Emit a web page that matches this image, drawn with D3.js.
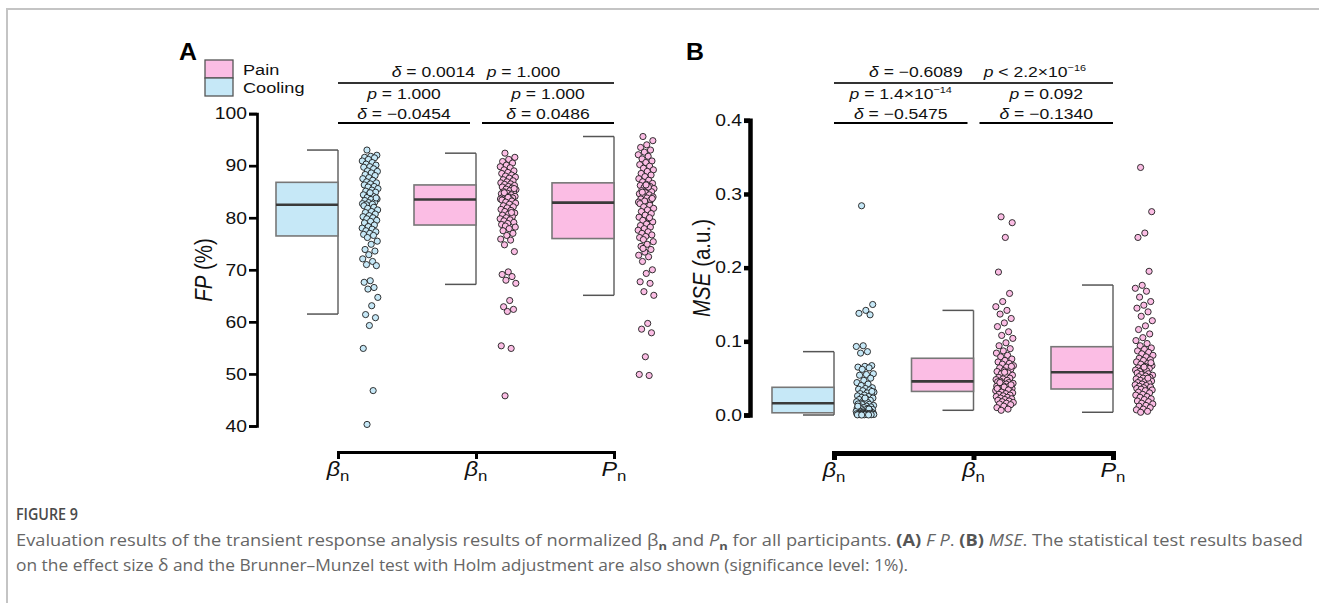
<!DOCTYPE html>
<meta charset="utf-8">
<style>
body { margin: 0; background: #fff; }
svg { display: block; font-family: "Liberation Sans", Arial, sans-serif; }
</style>
<body>
<script src="https://cdn.jsdelivr.net/npm/d3@7"></script>
<script>
// ---- data ----
var xLabels = [["β", "n"], ["β", "n"], ["P", "n"]];
var groupNames = ["Cooling", "Pain", "Pain"];
var legendNames = ["Pain", "Cooling"];

// FP (%) per participant
var fpCooling = [93.0, 92.0, 91.8, 91.6, 91.5, 91.2, 90.9, 90.6, 90.3, 90.1, 89.8, 89.7, 89.4, 89.0, 88.9, 88.6, 88.3, 88.1, 87.7, 87.5, 87.2, 86.9,
  86.7, 86.5, 86.3, 86.0, 85.9, 85.6, 85.3, 85.1, 84.9, 84.6, 84.4, 84.1, 83.9, 83.6, 83.5, 83.3, 83.0, 82.9, 82.7, 82.6, 82.5, 83.8, 84.8,
  82.3, 82.0, 81.8, 81.5, 81.2, 81.0, 80.7, 80.4, 80.2, 80.0, 79.8, 79.5, 79.3, 79.0, 78.6, 78.3, 78.0, 77.8, 77.5, 77.3, 77.0, 76.8, 76.6,
  76.2, 75.5, 74.9, 73.9, 73.6, 72.9, 72.1, 71.6, 71.0, 70.8, 67.9, 67.6, 66.6, 66.3, 64.7, 63.1, 61.4, 60.8, 59.3, 54.9, 46.8, 40.3];
var fpPainBeta = [92.4, 91.6, 91.2, 90.8, 90.5, 90.1, 89.8, 89.6, 89.2, 89.0, 88.7, 88.5, 88.2, 88.0, 87.8, 87.6, 87.3, 87.1, 86.9, 86.7, 86.5, 86.4,
  86.2, 86.0, 85.9, 85.7, 85.5, 85.4, 85.2, 85.0, 84.9, 84.7, 84.6, 84.4, 84.3, 84.1, 84.0, 83.9, 83.8, 83.7, 83.6, 83.5, 84.8, 85.6, 83.9,
  83.4, 83.2, 83.0, 82.8, 82.6, 82.3, 82.1, 81.9, 81.6, 81.4, 81.2, 80.9, 80.7, 80.5, 80.2, 80.0, 79.8, 79.6, 79.4, 79.1, 78.9, 78.7, 81.0,
  78.4, 78.2, 77.9, 77.5, 77.0, 76.6, 75.9, 75.7, 74.8, 73.5, 69.6, 69.1, 68.7, 68.0, 67.4, 64.1, 62.9, 62.4, 62.0, 55.4, 54.9, 45.8];
var fpPainP = [95.6, 94.8, 94.0, 93.5, 93.0, 92.6, 92.1, 91.8, 91.3, 90.9, 90.6, 90.2, 89.9, 89.5, 89.2, 88.9, 88.5, 88.2, 87.9, 87.5, 87.2, 86.9,
  86.6, 86.4, 86.2, 86.0, 85.8, 85.6, 85.4, 85.2, 85.0, 84.8, 84.6, 84.4, 84.2, 84.0, 83.8, 83.6, 83.4, 83.2, 83.0, 85.9, 84.9, 83.7, 86.3,
  82.7, 82.4, 82.1, 81.8, 81.5, 81.2, 80.8, 80.5, 80.1, 79.8, 79.5, 79.2, 78.8, 78.5, 78.2, 77.9, 77.6, 77.3, 77.0, 76.7, 76.4, 76.2, 80.0,
  75.8, 75.4, 74.9, 74.5, 73.9, 73.4, 72.8, 72.5, 71.6, 70.0, 69.3, 67.7, 67.4, 65.8, 65.1, 59.7, 58.6, 57.9, 53.3, 49.9, 49.7, 74.1];

// MSE (a.u.) per participant
var mseCooling = [0.284, 0.150, 0.142, 0.138, 0.136, 0.094, 0.093, 0.086, 0.084, 0.067, 0.066, 0.065, 0.064, 0.062, 0.056, 0.055, 0.054, 0.050, 0.047, 0.044, 0.042, 0.040,
  0.037, 0.036, 0.035, 0.034, 0.033, 0.031, 0.030, 0.029, 0.028, 0.027, 0.026, 0.025, 0.024, 0.023, 0.022, 0.021, 0.020, 0.019, 0.018, 0.017, 0.016, 0.032, 0.023,
  0.015, 0.0145, 0.014, 0.013, 0.012, 0.0115, 0.011, 0.010, 0.0095, 0.009, 0.008, 0.0075, 0.007, 0.0065, 0.006, 0.0055, 0.005, 0.0045, 0.004, 0.0035, 0.0033, 0.012, 0.008,
  0.0029, 0.0027, 0.0025, 0.0023, 0.0021, 0.002, 0.0018, 0.0016, 0.0015, 0.0013, 0.0012, 0.001, 0.0009, 0.0008, 0.0007, 0.0006, 0.0005, 0.0004, 0.0003, 0.0002, 0.0001, 0.0];
var msePainBeta = [0.269, 0.261, 0.241, 0.194, 0.165, 0.154, 0.147, 0.142, 0.137, 0.131, 0.125, 0.120, 0.113, 0.108, 0.104, 0.098, 0.094, 0.090, 0.087, 0.084, 0.081, 0.079,
  0.076, 0.074, 0.072, 0.070, 0.069, 0.067, 0.065, 0.064, 0.062, 0.060, 0.059, 0.057, 0.056, 0.054, 0.053, 0.051, 0.050, 0.049, 0.048, 0.047, 0.046, 0.066, 0.058,
  0.045, 0.044, 0.0435, 0.043, 0.042, 0.041, 0.040, 0.0395, 0.039, 0.038, 0.037, 0.036, 0.0355, 0.035, 0.034, 0.0335, 0.033, 0.0325, 0.044, 0.041, 0.038, 0.036, 0.034,
  0.031, 0.030, 0.029, 0.028, 0.027, 0.026, 0.025, 0.024, 0.023, 0.022, 0.021, 0.020, 0.019, 0.018, 0.017, 0.016, 0.015, 0.014, 0.012, 0.010, 0.008, 0.0064];
var msePainP = [0.336, 0.276, 0.247, 0.241, 0.195, 0.176, 0.172, 0.168, 0.160, 0.154, 0.149, 0.145, 0.140, 0.134, 0.128, 0.121, 0.116, 0.110, 0.105, 0.101, 0.097, 0.094,
  0.091, 0.089, 0.087, 0.085, 0.083, 0.081, 0.079, 0.077, 0.075, 0.074, 0.072, 0.070, 0.069, 0.067, 0.066, 0.064, 0.063, 0.062, 0.061, 0.060, 0.059, 0.071, 0.065,
  0.057, 0.056, 0.055, 0.054, 0.053, 0.052, 0.051, 0.050, 0.049, 0.048, 0.047, 0.046, 0.045, 0.044, 0.043, 0.042, 0.041, 0.040, 0.039, 0.038, 0.037, 0.036, 0.050,
  0.035, 0.034, 0.033, 0.031, 0.030, 0.028, 0.027, 0.025, 0.024, 0.022, 0.021, 0.019, 0.018, 0.016, 0.015, 0.013, 0.012, 0.010, 0.008, 0.007, 0.005, 0.0037];

// box stats: [whisker low, q1, median, q3, whisker high]
var fpBox = [[61.5, 76.5, 82.5, 86.8, 93.0], [67.2, 78.6, 83.5, 86.3, 92.4], [65.1, 76.0, 82.9, 86.7, 95.6]];
var mseBox = [[0.0, 0.003, 0.016, 0.0376, 0.086], [0.0064, 0.032, 0.0457, 0.077, 0.142], [0.0037, 0.0353, 0.058, 0.0927, 0.1764]];

var fpTicks = [40, 50, 60, 70, 80, 90, 100];
var mseTicks = [0, 0.1, 0.2, 0.3, 0.4];

// test annotations: [top, left p, left delta, right p, right delta]
var fpStats = [
  [["δ", "i"], [" = 0.0014"], ["p", "i", 10], [" = 1.000"]],
  [["p", "i"], [" = 1.000"]],
  [["δ", "i"], [" = −0.0454"]],
  [["p", "i"], [" = 1.000"]],
  [["δ", "i"], [" = 0.0486"]]
];
var mseStats = [
  [["δ", "i"], [" = −0.6089"], ["p", "i", 18], [" < 2.2×10"], ["−16", "sup"]],
  [["p", "i"], [" = 1.4×10"], ["−14", "sup"]],
  [["δ", "i"], [" = −0.5475"]],
  [["p", "i"], [" = 0.092"]],
  [["δ", "i"], [" = −0.1340"]]
];

var blue = "#c6e8f7", pink = "#fbbde4";
var fills = [blue, pink, pink];
var SX = 1.17; // figure text is stretched horizontally

var width = 1319, height = 603;
var svg = d3.select("body").append("svg").attr("width", width).attr("height", height);

// page frame
svg.append("path").attr("d", "M7," + height + "V9H" + width)
  .attr("fill", "none").attr("stroke", "#c4c4c4").attr("stroke-width", 2);

function rich(g, x, y, parts, size, anchor, extra) {
  var t = g.append("text")
    .attr("transform", "translate(" + x + "," + y + ") scale(" + SX + ",1)" + (extra || ""))
    .attr("text-anchor", anchor || "middle")
    .attr("font-size", size).attr("fill", "#111");
  var shifted = 0;
  parts.forEach(function(p) {
    var ts = t.append("tspan").text(p[0]);
    var st = p[1] || "";
    if (st.indexOf("i") >= 0) ts.attr("font-style", "italic");
    if (p[2]) ts.attr("dx", p[2]);
    var want = 0;
    if (st == "sup") { want = -size * 0.42; ts.attr("font-size", size * 0.62); }
    if (st == "sub") { want = size * 0.25; ts.attr("font-size", size * 0.72); }
    if (want != shifted) { ts.attr("dy", want - shifted); shifted = want; }
  });
  return t;
}

function jitter(i) { return ((i * 0.618034 + 0.31) % 1) - 0.5; }

function panel(cfg) {
  var g = svg.append("g");
  var y = d3.scaleLinear().domain(cfg.domain).range(cfg.yRange);
  var x = d3.scalePoint().domain([0, 1, 2]).range(cfg.xRange);

  // y axis
  var ya = g.append("g").attr("transform", "translate(" + cfg.axisX + ",0)")
    .call(d3.axisLeft(y).tickValues(cfg.ticks).tickSize(cfg.tick).tickSizeOuter(cfg.tick)
      .tickPadding(cfg.pad).tickFormat(cfg.fmt));
  ya.selectAll("path, line").attr("stroke", "#000").attr("stroke-width", cfg.lw);
  ya.selectAll("text").attr("font-size", 16.5).attr("fill", "#111").attr("font-family", "Liberation Sans")
    .attr("x", 0).attr("transform", "translate(" + (-cfg.tick - cfg.pad) + ",0) scale(" + SX + ",1)");

  // x axis bracket
  var xa = g.append("g").attr("transform", "translate(0," + cfg.axisY + ")")
    .call(d3.axisBottom(x).tickSize(7).tickSizeOuter(7).tickFormat(""));
  xa.selectAll("path, line").attr("stroke", "#000").attr("stroke-width", cfg.xlw);
  xLabels.forEach(function(l, i) {
    rich(g, x(i), cfg.axisY + 24, [[l[0], "i"], [l[1], "sub"]], 20, "middle");
  });

  // axis title
  g.append("text")
    .attr("transform", "translate(" + cfg.titleX + "," + cfg.titleY + ") scale(" + SX + ",1) rotate(-90)")
    .attr("text-anchor", "middle").attr("font-size", 20.5).attr("fill", "#111")
    .call(function(t) {
      t.append("tspan").attr("font-style", "italic").text(cfg.title[0]);
      t.append("tspan").text(cfg.title[1]);
    });

  // boxes
  cfg.box.forEach(function(b, i) {
    var right = x(i), left = right - cfg.boxW, mid = right - cfg.boxW / 2;
    var bg = g.append("g");
    bg.append("line").attr("x1", right).attr("x2", right).attr("y1", y(b[0])).attr("y2", y(b[4]))
      .attr("stroke", "#666").attr("stroke-width", 1.5);
    [b[0], b[4]].forEach(function(v) {
      bg.append("line").attr("x1", mid).attr("x2", right).attr("y1", y(v)).attr("y2", y(v))
        .attr("stroke", "#555").attr("stroke-width", 1.5);
    });
    bg.append("rect").attr("x", left).attr("width", cfg.boxW)
      .attr("y", y(b[3])).attr("height", y(b[1]) - y(b[3]))
      .attr("fill", fills[i]).attr("stroke", "#777").attr("stroke-width", 1.6);
    bg.append("line").attr("x1", left).attr("x2", right).attr("y1", y(b[2])).attr("y2", y(b[2]))
      .attr("stroke", "#3a3a3a").attr("stroke-width", 2.6);
  });

  // points
  cfg.points.forEach(function(arr, i) {
    var cx = x(i) + cfg.dotOff;
    g.append("g").selectAll("circle").data(arr).enter().append("circle")
      .attr("cx", function(d, j) { return cx + jitter(j) * 2 * cfg.jit; })
      .attr("cy", function(d) { return y(d); })
      .attr("r", 3.1).attr("fill", fills[i]).attr("stroke", "#1c1c1c").attr("stroke-width", 0.9);
  });

  // significance brackets
  var x0 = x(0), x1 = x(1), x2 = x(2);
  g.append("line").attr("x1", x0).attr("x2", x2).attr("y1", 83).attr("y2", 83)
    .attr("stroke", "#333").attr("stroke-width", 1.8);
  g.append("line").attr("x1", x0).attr("x2", x1 - 6).attr("y1", 123).attr("y2", 123)
    .attr("stroke", "#000").attr("stroke-width", 2);
  g.append("line").attr("x1", x1 + 6).attr("x2", x2).attr("y1", 123).attr("y2", 123)
    .attr("stroke", "#000").attr("stroke-width", 2);
  var s = cfg.stats;
  rich(g, (x0 + x2) / 2 + cfg.topShift, 77, s[0], 15, "middle");
  rich(g, (x0 + x1 - 6) / 2, 99, s[1], 15, "middle");
  rich(g, (x0 + x1 - 6) / 2, 119, s[2], 15, "middle");
  rich(g, (x1 + 6 + x2) / 2, 99, s[3], 15, "middle");
  rich(g, (x1 + 6 + x2) / 2, 119, s[4], 15, "middle");

  // panel letter
  g.append("text").attr("transform", "translate(" + cfg.letterX + ",60) scale(1.08,1)")
    .attr("font-size", 23).attr("font-weight", "bold").attr("fill", "#000").text(cfg.letter);
  return g;
}

var gA = panel({
  domain: [40, 100], yRange: [426, 113.6], xRange: [338, 614], axisX: 257, axisY: 452,
  ticks: fpTicks, fmt: d3.format("d"), tick: 8, pad: 2, lw: 2.7, xlw: 3,
  title: ["FP", " (%)"], titleX: 212, titleY: 270,
  box: fpBox, boxW: 62, points: [fpCooling, fpPainBeta, fpPainP], dotOff: 32, jit: 8,
  stats: fpStats, topShift: 0, letter: "A", letterX: 179
});

var gB = panel({
  domain: [0, 0.4], yRange: [415, 120.3], xRange: [834, 1113], axisX: 750, axisY: 453,
  ticks: mseTicks, fmt: d3.format(".1f"), tick: 6, pad: 2, lw: 4.5, xlw: 5,
  title: ["MSE", " (a.u.)"], titleX: 710, titleY: 268,
  box: mseBox, boxW: 62, points: [mseCooling, msePainBeta, msePainP], dotOff: 31, jit: 9,
  stats: mseStats, topShift: 4, letter: "B", letterX: 686
});

// legend (panel A)
legendNames.forEach(function(n, i) {
  var ly = 60 + i * 18;
  svg.append("rect").attr("x", 205).attr("y", ly).attr("width", 28).attr("height", 18)
    .attr("fill", i == 0 ? pink : blue).attr("stroke", "#555").attr("stroke-width", 1.3);
  svg.append("text").attr("transform", "translate(243," + (ly + 15) + ") scale(" + SX + ",1)")
    .attr("font-size", 15.5).attr("fill", "#111").text(n);
});

// caption
var cap = svg.append("g").attr("font-family", "'Open Sans', 'Noto Sans', sans-serif").attr("fill", "#666");
cap.append("text").attr("x", 16).attr("y", 520).attr("font-size", 17).attr("font-weight", 600).attr("fill", "#4a4a4a")
  .attr("textLength", 62).attr("lengthAdjust", "spacingAndGlyphs").text("FIGURE 9");

function capLine(yy, len, parts) {
  var t = cap.append("text").attr("x", 16).attr("y", yy).attr("font-size", 15.5)
    .attr("textLength", len).attr("lengthAdjust", "spacingAndGlyphs");
  var shifted = 0;
  parts.forEach(function(p) {
    var ts = t.append("tspan").text(p[0]);
    var st = p[1] || "";
    if (st.indexOf("i") >= 0) ts.attr("font-style", "italic");
    if (st.indexOf("b") >= 0) ts.attr("font-weight", "bold").attr("fill", "#555");
    var want = st == "sub" ? 4 : 0;
    if (st == "sub") ts.attr("font-size", 11);
    if (want != shifted) { ts.attr("dy", want - shifted); shifted = want; }
  });
}
capLine(546, 1287, [["Evaluation results of the transient response analysis results of normalized β"], ["n", "sub"],
  [" and "], ["P", "i"], ["n", "sub"], [" for all participants. "], ["(A)", "b"], [" "], ["F P", "i"], [". "],
  ["(B)", "b"], [" "], ["MSE", "i"], [". The statistical test results based"]]);
capLine(571, 892, [["on the effect size δ and the Brunner–Munzel test with Holm adjustment are also shown (significance level: 1%)."]]);
</script>
